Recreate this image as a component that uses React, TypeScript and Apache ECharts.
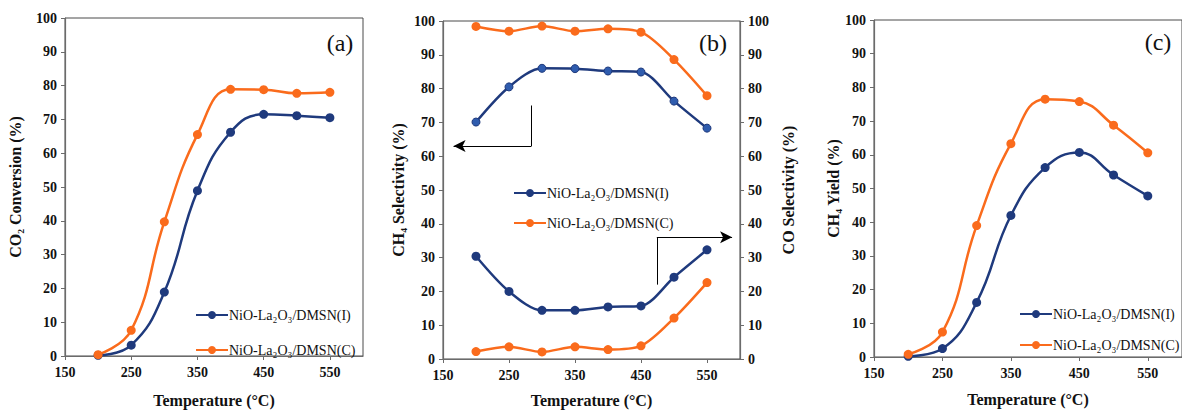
import React, { useEffect, useRef } from 'react';
import * as echarts from 'echarts';

const temps = [200, 250, 300, 350, 400, 450, 500, 550];
const nameI = 'NiO-La₂O₃/DMSN(I)';
const nameC = 'NiO-La₂O₃/DMSN(C)';
const convI = [0.2, 3.2, 18.9, 48.9, 66.2, 71.5, 71.1, 70.5];
const convC = [0.4, 7.6, 39.7, 65.5, 78.9, 78.8, 77.7, 78.0];
const ch4SelI = [70.1, 80.5, 86.0, 85.9, 85.2, 84.9, 76.3, 68.3];
const ch4SelC = [98.4, 97.0, 98.5, 97.0, 97.7, 96.7, 88.6, 77.9];
const coSelI = [30.4, 20.0, 14.4, 14.4, 15.4, 15.7, 24.2, 32.3];
const coSelC = [2.2, 3.6, 2.1, 3.6, 2.8, 3.9, 12.1, 22.6];
const yieldI = [0.2, 2.5, 16.2, 42.0, 56.2, 60.7, 54.0, 47.8];
const yieldC = [0.8, 7.4, 39.0, 63.3, 76.5, 75.8, 68.8, 60.6];
const panelLabels = ['(a)', '(b)', '(c)'];

const BLUE = '#1f3a7d';
const ORANGE = '#fa6b1c';
const SERIF = 'Liberation Serif';
const AXIS_COLOR = '#6b6b6b';

const pairs = (ys: number[]) => temps.map((t, i) => [t, ys[i]]);

function xAxis(gridIndex: number, nameGap: number) {
  return {
    type: 'value',
    gridIndex,
    min: 150,
    max: 600,
    interval: 100,
    axisLine: { show: true, lineStyle: { color: AXIS_COLOR, width: 1.2 } },
    axisTick: { show: true, inside: false, length: 4, lineStyle: { color: AXIS_COLOR } },
    splitLine: { show: false },
    axisLabel: {
      showMaxLabel: false,
      formatter: (v: number) => (v === 600 ? '' : String(v)),
      margin: 9,
      fontFamily: SERIF,
      fontWeight: 'bold',
      fontSize: 14,
      color: '#111',
    },
    name: 'Temperature (°C)',
    nameLocation: 'middle',
    nameGap,
    nameTextStyle: { fontFamily: SERIF, fontWeight: 'bold', fontSize: 16, color: '#111' },
  };
}

function yAxis(gridIndex: number, name: string, nameGap: number, position = 'left') {
  return {
    type: 'value',
    gridIndex,
    position,
    min: 0,
    max: 100,
    interval: 10,
    axisLine: { show: true, lineStyle: { color: AXIS_COLOR, width: 1.2 } },
    axisTick: { show: true, inside: false, length: 4, lineStyle: { color: AXIS_COLOR } },
    splitLine: { show: false },
    axisLabel: {
      margin: 8,
      fontFamily: SERIF,
      fontWeight: 'bold',
      fontSize: 14,
      color: '#111',
    },
    name,
    nameLocation: 'middle',
    nameGap,
    nameTextStyle: { fontFamily: SERIF, fontWeight: 'bold', fontSize: 16, color: '#111' },
  };
}

function lineSeries(name: string, color: string, ys: number[], xi: number, yi: number, smooth: number, extra: any = {}) {
  return {
    type: 'line',
    name,
    xAxisIndex: xi,
    yAxisIndex: yi,
    data: pairs(ys),
    smooth,
    symbol: 'circle',
    symbolSize: 9,
    itemStyle: { color },
    lineStyle: { color, width: 2.5 },
    emphasis: { disabled: true },
    ...extra,
  };
}

function legend(left: number, top: number, itemGap: number) {
  return {
    left,
    top,
    orient: 'vertical',
    itemGap,
    itemWidth: 32,
    itemHeight: 10,
    selectedMode: false,
    textStyle: { fontFamily: SERIF, fontSize: 14, color: '#111', padding: [0, 0, 0, -4] },
    data: [nameI, nameC],
  };
}

export default function App() {
  const ref = useRef<HTMLDivElement>(null);
  useEffect(() => {
    if (!ref.current) return;
    const chart = echarts.init(ref.current, undefined, { renderer: 'svg' });
    const arrowLine = { color: '#000', width: 1, type: 'solid' };
    const labelFont = `24px ${SERIF}`;
    const option: any = {
      animation: false,
      backgroundColor: '#fff',
      grid: [
        { left: 65, top: 18, width: 298, height: 344, show: true, borderColor: '#4a4a4a', borderWidth: 1 },
        { left: 443, top: 21, width: 297, height: 339, show: true, borderColor: '#4a4a4a', borderWidth: 1 },
        { left: 874, top: 20, width: 309, height: 337, show: true, borderColor: '#4a4a4a', borderWidth: 1 },
      ],
      xAxis: [xAxis(0, 36), xAxis(1, 33), xAxis(2, 34)],
      yAxis: [
        yAxis(0, 'CO₂ Conversion (%)', 42),
        yAxis(1, 'CH₄ Selectivity (%)', 37),
        yAxis(1, 'CO Selectivity (%)', 40, 'right'),
        yAxis(2, 'CH₄ Yield (%)', 31),
      ],
      legend: [legend(190, 303, 21), legend(508, 181, 16), legend(1014, 302, 17)],
      series: [
        lineSeries(nameI, BLUE, convI, 0, 0, 0.45),
        lineSeries(nameC, ORANGE, convC, 0, 0, 0.45),
        lineSeries(nameI, BLUE, ch4SelI, 1, 1, 0.3, { symbolSize: 8, itemStyle: { color: '#2f5cae', borderColor: BLUE, borderWidth: 1 } }),
        lineSeries(nameC, ORANGE, ch4SelC, 1, 1, 0.3),
        lineSeries(nameI, BLUE, coSelI, 1, 2, 0.3, {
          markLine: {
            silent: true,
            animation: false,
            symbol: ['none', 'none'],
            label: { show: false },
            lineStyle: arrowLine,
            emphasis: { disabled: true },
            data: [
              [{ coord: [284, 75], symbol: 'none' }, { coord: [284, 63], symbol: 'none' }],
              [{ coord: [284, 63], symbol: 'none' }, { coord: [166, 63], symbol: 'arrow', symbolSize: [9, 12] }],
              [{ coord: [474, 22], symbol: 'none' }, { coord: [474, 36], symbol: 'none' }],
              [{ coord: [474, 36], symbol: 'none' }, { coord: [588, 36], symbol: 'arrow', symbolSize: [9, 12] }],
            ],
          },
        }),
        lineSeries(nameC, ORANGE, coSelC, 1, 2, 0.3),
        lineSeries(nameI, BLUE, yieldI, 2, 3, 0.45),
        lineSeries(nameC, ORANGE, yieldC, 2, 3, 0.45),
      ],
      graphic: [
        { type: 'text', x: 340, y: 43, style: { text: panelLabels[0], font: labelFont, fill: '#111', textAlign: 'center', textVerticalAlign: 'middle' } },
        { type: 'text', x: 713, y: 43, style: { text: panelLabels[1], font: labelFont, fill: '#111', textAlign: 'center', textVerticalAlign: 'middle' } },
        { type: 'text', x: 1158, y: 42, style: { text: panelLabels[2], font: labelFont, fill: '#111', textAlign: 'center', textVerticalAlign: 'middle' } },
      ],
    };
    chart.setOption(option);
    return () => chart.dispose();
  }, []);
  return (
    <div
      ref={ref}
      style={{ position: 'absolute', left: 0, top: 0, width: 1182, height: 413, background: '#fff' }}
    />
  );
}
